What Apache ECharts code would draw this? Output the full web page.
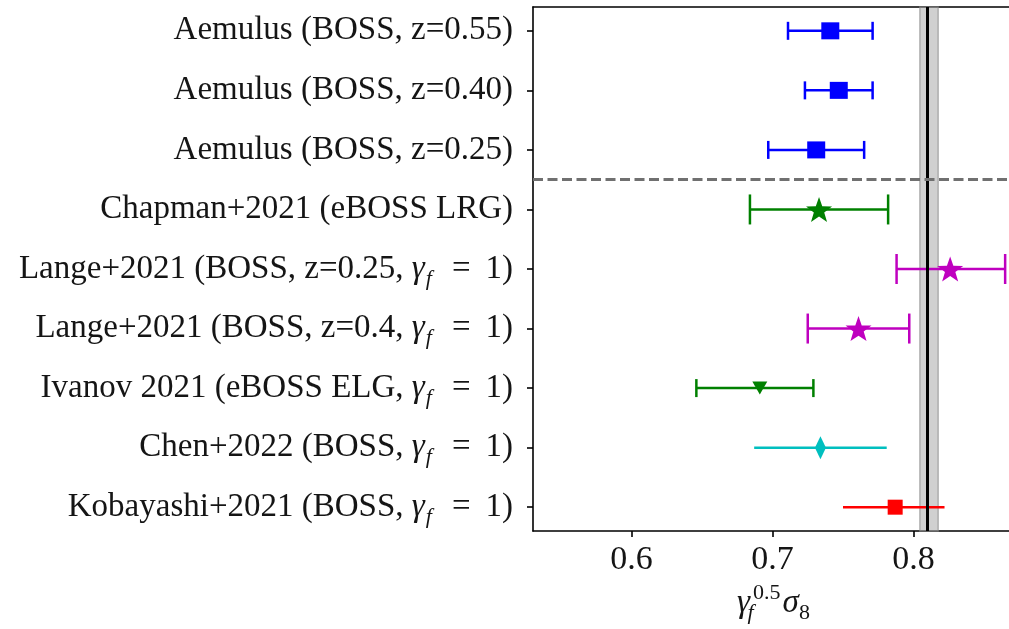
<!DOCTYPE html>
<html>
<head>
<meta charset="utf-8">
<script src="https://cdn.jsdelivr.net/npm/echarts@6/dist/echarts.min.js"></script>
<style>
  html, body { margin: 0; padding: 0; background: #ffffff; }
  #chart { width: 1009px; height: 629px; }
</style>
</head>
<body>
<div id="chart"></div>
<script>
// Measurements, top row first. "γ_f" in a name is typeset as gamma with subscript f.
const categories = [
  'Aemulus (BOSS, z=0.55)',
  'Aemulus (BOSS, z=0.40)',
  'Aemulus (BOSS, z=0.25)',
  'Chapman+2021 (eBOSS LRG)',
  'Lange+2021 (BOSS, z=0.25, γ_f = 1)',
  'Lange+2021 (BOSS, z=0.4, γ_f = 1)',
  'Ivanov 2021 (eBOSS ELG, γ_f = 1)',
  'Chen+2022 (BOSS, γ_f = 1)',
  'Kobayashi+2021 (BOSS, γ_f = 1)'
];
const centralValues = [0.741, 0.747, 0.731, 0.733, 0.826, 0.761, 0.691, 0.734, 0.787];
const errorsLow     = [0.030, 0.024, 0.034, 0.049, 0.038, 0.036, 0.045, 0.047, 0.037];
const errorsHigh    = [0.030, 0.024, 0.034, 0.049, 0.039, 0.036, 0.038, 0.047, 0.035];

// Planck reference value and its 1-sigma band
const referenceValue = 0.811;
const referenceError = 0.0065;

// Row after which the separator is drawn
const separatorAfterRow = 2;

const xTickValues = [0.6, 0.7, 0.8];

// Marker styling per row
const STAR = 'path://M0,-10L2.35,-3.24L9.51,-3.09L3.8,1.24L5.88,8.09L0,4.2L-5.88,8.09L-3.8,1.24L-9.51,-3.09L-2.35,-3.24Z';
const rowStyles = [
  { color: '#0000ff', symbol: 'rect', size: [18, 17], cap: 18 },
  { color: '#0000ff', symbol: 'rect', size: [18, 17], cap: 18 },
  { color: '#0000ff', symbol: 'rect', size: [18, 17], cap: 18 },
  { color: '#008000', symbol: STAR, size: [26, 25], cap: 30 },
  { color: '#bf00bf', symbol: STAR, size: [26, 25], cap: 30 },
  { color: '#bf00bf', symbol: STAR, size: [26, 25], cap: 30 },
  { color: '#008000', symbol: 'triangle', size: [15, 13], rotate: 180, cap: 18 },
  { color: '#00bfbf', symbol: 'diamond', size: [11, 23], cap: 0 },
  { color: '#ff0000', symbol: 'rect', size: [15, 15], cap: 0 }
];

const SERIF = '"Liberation Serif", "DejaVu Serif", serif';
const LABEL_SIZE = 33;
const TEXT_COLOR = '#151515';

// Turns "... γ_f = 1)" into rich-text tokens with an italic gamma, a subscript f
// and math-style spacing around the equals sign.
function richName(name) {
  const parts = name.split('γ_f');
  if (parts.length === 1) return '{t|' + name + '}';
  const rest = parts[1].replace(/^\s*=\s*/, '');
  return '{t|' + parts[0] + '}{g|γ}{s|f}{q|=}{t|' + rest + '}';
}

const errorData = centralValues.map((v, i) => [v - errorsLow[i], v + errorsHigh[i], i]);
const markerData = centralValues.map((v, i) => {
  const st = rowStyles[i];
  return {
    value: [v, i],
    symbol: st.symbol,
    symbolSize: st.size,
    symbolRotate: st.rotate || 0,
    itemStyle: { color: st.color, opacity: 1 }
  };
});

const X_MIN = 0.53014;
const X_MAX = 0.87128;

const chart = echarts.init(document.getElementById('chart'), null, { renderer: 'canvas' });

chart.setOption({
  animation: false,
  backgroundColor: '#ffffff',
  grid: { left: 533, top: 7, width: 481, height: 524, containLabel: false, outerBoundsMode: 'none' },
  xAxis: [
    {
      type: 'value',
      min: X_MIN,
      max: X_MAX,
      position: 'bottom',
      axisLine: { show: true, onZero: false, lineStyle: { color: '#000', width: 1.6 } },
      axisTick: { show: true, customValues: xTickValues, length: 6, lineStyle: { color: '#000', width: 1.6 } },
      axisLabel: {
        customValues: xTickValues,
        formatter: v => v.toFixed(1),
        margin: 12,
        fontFamily: SERIF,
        fontSize: 34,
        color: TEXT_COLOR
      },
      splitLine: { show: false },
      name: '{g|γ}{s|f}{p|0.5}{g|σ}{e|8}',
      nameLocation: 'middle',
      nameGap: 50,
      nameTextStyle: {
        rich: {
          g: { fontFamily: SERIF, fontStyle: 'italic', fontSize: 33, color: TEXT_COLOR, lineHeight: 42, verticalAlign: 'middle' },
          s: { fontFamily: SERIF, fontStyle: 'italic', fontSize: 22, color: TEXT_COLOR, lineHeight: 42, verticalAlign: 'bottom', width: 1 },
          p: { fontFamily: SERIF, fontSize: 22, color: TEXT_COLOR, lineHeight: 42, verticalAlign: 'top', padding: [0, 2, 0, 2] },
          e: { fontFamily: SERIF, fontSize: 22, color: TEXT_COLOR, lineHeight: 40, verticalAlign: 'bottom' }
        }
      }
    },
    {
      type: 'value',
      min: X_MIN,
      max: X_MAX,
      position: 'top',
      axisLine: { show: true, onZero: false, lineStyle: { color: '#000', width: 1.6 } },
      axisTick: { show: false },
      axisLabel: { show: false },
      splitLine: { show: false }
    }
  ],
  yAxis: {
    type: 'value',
    inverse: true,
    min: -0.4,
    max: 8.4,
    axisLine: { show: true, onZero: false, lineStyle: { color: '#000', width: 1.6 } },
    axisTick: { show: true, customValues: categories.map((c, i) => i), length: 6, lineStyle: { color: '#000', width: 1.6 } },
    axisLabel: {
      customValues: categories.map((c, i) => i),
      formatter: v => richName(categories[Math.round(v)]),
      margin: 20,
      rich: {
        t: { fontFamily: SERIF, fontSize: LABEL_SIZE, color: TEXT_COLOR, lineHeight: 42, verticalAlign: 'middle' },
        g: { fontFamily: SERIF, fontStyle: 'italic', fontSize: LABEL_SIZE, color: TEXT_COLOR, lineHeight: 42, verticalAlign: 'middle' },
        s: { fontFamily: SERIF, fontStyle: 'italic', fontSize: 22, color: TEXT_COLOR, lineHeight: 42, verticalAlign: 'bottom', padding: [0, 5, 0, 1] },
        q: { fontFamily: SERIF, fontSize: LABEL_SIZE, color: TEXT_COLOR, lineHeight: 42, verticalAlign: 'middle', padding: [0, 15, 0, 15] }
      }
    },
    splitLine: { show: false }
  },
  series: [
    {
      type: 'custom',
      name: 'errors',
      data: errorData,
      z: 3,
      encode: { x: [0, 1], y: 2 },
      renderItem: function (params, api) {
        const i = params.dataIndex;
        const st = rowStyles[i];
        const a = api.coord([api.value(0), api.value(2)]);
        const b = api.coord([api.value(1), api.value(2)]);
        const style = { stroke: st.color, lineWidth: 2.5, fill: null };
        const children = [
          { type: 'line', shape: { x1: a[0], y1: a[1], x2: b[0], y2: b[1] }, style: style }
        ];
        if (st.cap > 0) {
          const h = st.cap / 2;
          children.push({ type: 'line', shape: { x1: a[0], y1: a[1] - h, x2: a[0], y2: a[1] + h }, style: style });
          children.push({ type: 'line', shape: { x1: b[0], y1: b[1] - h, x2: b[0], y2: b[1] + h }, style: style });
        }
        return { type: 'group', children: children };
      },
      markArea: {
        silent: true,
        itemStyle: { color: 'rgba(150,150,150,0.45)', borderColor: 'rgba(140,140,140,0.6)', borderWidth: 1.5 },
        data: [[{ xAxis: referenceValue - referenceError }, { xAxis: referenceValue + referenceError }]]
      },
      markLine: {
        silent: true,
        symbol: 'none',
        label: { show: false },
        data: [
          { xAxis: referenceValue, lineStyle: { color: '#000', width: 3, type: 'solid' } },
          { yAxis: separatorAfterRow + 0.5, lineStyle: { color: '#707070', width: 3, type: [10, 4.5] } }
        ]
      }
    },
    {
      type: 'scatter',
      name: 'markers',
      z: 4,
      data: markerData,
      symbolKeepAspect: false
    }
  ]
});
</script>
</body>
</html>
